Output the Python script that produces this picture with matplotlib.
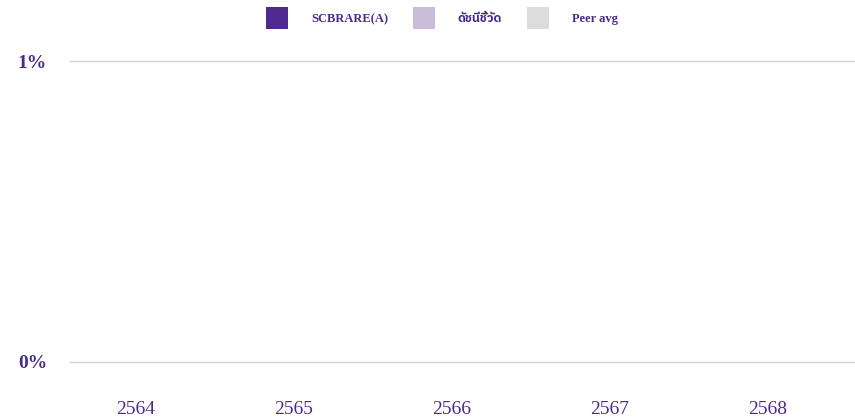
import numpy as np
import matplotlib.pyplot as plt
from matplotlib.patches import Patch
from matplotlib import font_manager

years = ['2564', '2565', '2566', '2567', '2568']
fund_vals = [np.nan] * 5
index_vals = [np.nan] * 5
peer_vals = [np.nan] * 5
series_names = ['SCBRARE(A)', 'ดัชนีชี้วัด', 'Peer avg']
series_colors = ['#4e2a8e', '#c9bdda', '#dcdcdc']
yticks = [0, 1]
ytick_labels = ['0%', '1%']

purple = '#4b2a8a'
# serif first, then whatever installed family has the Thai glyphs
thai_fams = [f.name for f in font_manager.fontManager.ttflist if 'Thai' in f.name]
plt.rcParams['font.family'] = ['Liberation Serif'] + thai_fams + ['DejaVu Sans']

fig = plt.figure(figsize=(8.55, 4.17), dpi=100)
ax = fig.add_axes([70 / 855, 1 - 362 / 417, 785 / 855, (362 - 61) / 417])

x = np.arange(len(years))
w = 0.25
for i, (vals, c) in enumerate(zip([fund_vals, index_vals, peer_vals], series_colors)):
    ax.bar(x + (i - 1) * w, vals, width=w, color=c)

ax.set_xlim(-66 / 158, (855 - 136) / 158)
ax.set_ylim(0, 1)
ax.set_yticks(yticks)
ax.set_yticklabels(ytick_labels, fontsize=14, fontweight='bold', color=purple)
ax.set_xticks(x)
ax.set_xticklabels(years, fontsize=14, color=purple)
ax.tick_params(axis='both', length=0)
ax.tick_params(axis='y', pad=16.5)
ax.tick_params(axis='x', pad=28)
for t in yticks:
    ax.axhline(t, color='#d3d3d3', linewidth=1, clip_on=False, zorder=0)
for s in ax.spines.values():
    s.set_visible(False)

handles = [Patch(facecolor=c, edgecolor='none') for c in series_colors]
fig.legend(handles, series_names, loc='upper center', bbox_to_anchor=(442 / 855, 1.0),
           ncol=3, frameon=False, prop={'size': 9, 'weight': 'bold'},
           handlelength=1.75, handleheight=2.4, handletextpad=1.85,
           columnspacing=2.0, labelcolor=purple, borderaxespad=0.15)

fig.savefig('out.png', dpi=100)
